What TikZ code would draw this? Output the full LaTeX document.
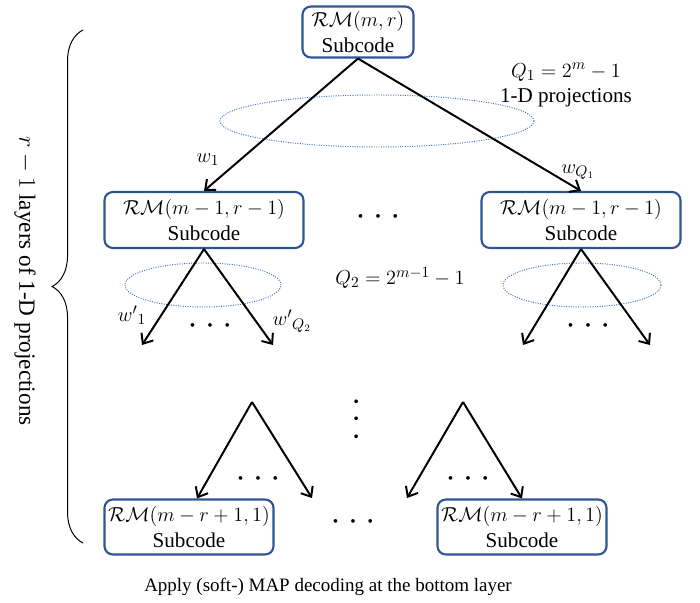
\documentclass[tikz,border=0pt]{standalone}
\usepackage{fontspec}
\setmainfont{Liberation Serif}
\usepackage{amsmath}
\usetikzlibrary{
  arrows.meta,
  positioning,
  decorations.pathreplacing
}
\definecolor{boxblue}{RGB}{47,85,151}
\definecolor{ellblue}{RGB}{68,114,196}

% three dots in a row
\newcommand{\threedots}{%
  {\fontsize{11}{11}\selectfont\textbullet\hspace{8.5pt}\textbullet\hspace{8.5pt}\textbullet}}

\begin{document}
\begin{tikzpicture}[x=0.025cm, y=-0.025cm, font=\fontsize{15}{18}\selectfont]

  \tikzset{
    code/.style={
      draw=boxblue, line width=1.5pt, rounded corners=6pt,
      minimum width=4.975cm, minimum height=1.4cm,
      align=center, inner sep=1pt
    },
    edge/.style={
      -{Straight Barb[length=6pt, width=10pt]}, line width=1.4pt
    },
    proj/.style={draw=ellblue, densely dotted, line width=0.7pt},
    dots/.style={inner sep=0pt}
  }

  \useasboundingbox (0,0) rectangle (700,603);

  % ---- Top layer ----
  \node[code, minimum width=2.775cm, minimum height=1.275cm] (root) at (358,32)
    {$\mathcal{RM}(m,r)$\\Subcode};

  \node[code] (left) at (204,220) {$\mathcal{RM}(m-1,r-1)$\\Subcode};
  \node[code] (right) at (581,220) {$\mathcal{RM}(m-1,r-1)$\\Subcode};

  \draw[proj] (377,121) ellipse [x radius=3.925cm, y radius=0.65cm];

  \draw[edge] (root.south) -- (left.north);
  \draw[edge] (root.south) -- (right.north);

  \node (w1) at (208,160) {$w_1$};
  \node (wq1) at (578,172) {$w_{Q_1}$};
  \node[align=center] (q1) at (566,85)
    {$Q_1 = 2^m - 1$\\1-D projections};
  \node[dots] (hd1) at (378,218) {\threedots};

  % ---- Second layer ----
  \draw[proj] (203,285) ellipse [x radius=1.95cm, y radius=0.55cm];
  \draw[proj] (582,285) ellipse [x radius=1.975cm, y radius=0.55cm];

  \coordinate (l1) at (142,345);
  \coordinate (l2) at (273,345);
  \coordinate (r1) at (523,345);
  \coordinate (r2) at (650,345);

  \draw[edge] (left.south) -- (l1);
  \draw[edge] (left.south) -- (l2);
  \draw[edge] (right.south) -- (r1);
  \draw[edge] (right.south) -- (r2);

  \node (wp1) at (132,315) {${w'}_{1}$};
  \node (wpq2) at (292,321) {${w'}_{Q_2}$};
  \node (q2) at (400,278) {$Q_2 = 2^{m-1} - 1$};
  \node[dots] (hd2) at (210,327) {\threedots};
  \node[dots] (hd3) at (588,327) {\threedots};

  \node[dots, rotate=90] (vd) at (358,419) {\threedots};

  % ---- Bottom layer ----
  \node[code, minimum width=4.225cm, minimum height=1.375cm] (botl) at (189,527)
    {$\mathcal{RM}(m-r+1,1)$\\Subcode};
  \node[code, minimum width=4.225cm, minimum height=1.375cm] (botr) at (522,527)
    {$\mathcal{RM}(m-r+1,1)$\\Subcode};

  \coordinate (ta) at (252,402);
  \coordinate (tb) at (463,402);
  \coordinate (ta2) at (312,498);
  \coordinate (tb1) at (407,498);

  \draw[edge] (ta) -- ([xshift=0.2cm]botl.north);
  \draw[edge] (ta) -- (ta2);
  \draw[edge] (tb) -- (tb1);
  \draw[edge] (tb) -- (botr.north);

  \node[dots] (hd4) at (258,480) {\threedots};
  \node[dots] (hd5) at (468,480) {\threedots};
  \node[dots] (hd6) at (353,523) {\threedots};

  \node[font=\fontsize{13.5}{16}\selectfont] (map) at (328,587)
    {Apply (soft-) MAP decoding at the bottom layer};

  % ---- Brace on the left ----
  \coordinate (btop) at (83,30);
  \coordinate (bbot) at (83,543);
  \draw[decorate, decoration={brace, amplitude=22pt}, line width=0.7pt]
    (bbot) -- (btop);
  \node[rotate=-90, font=\fontsize{16.5}{18}\selectfont] (layers) at (25,281)
    {$r-1$ layers of 1-D projections};

\end{tikzpicture}
\end{document}
